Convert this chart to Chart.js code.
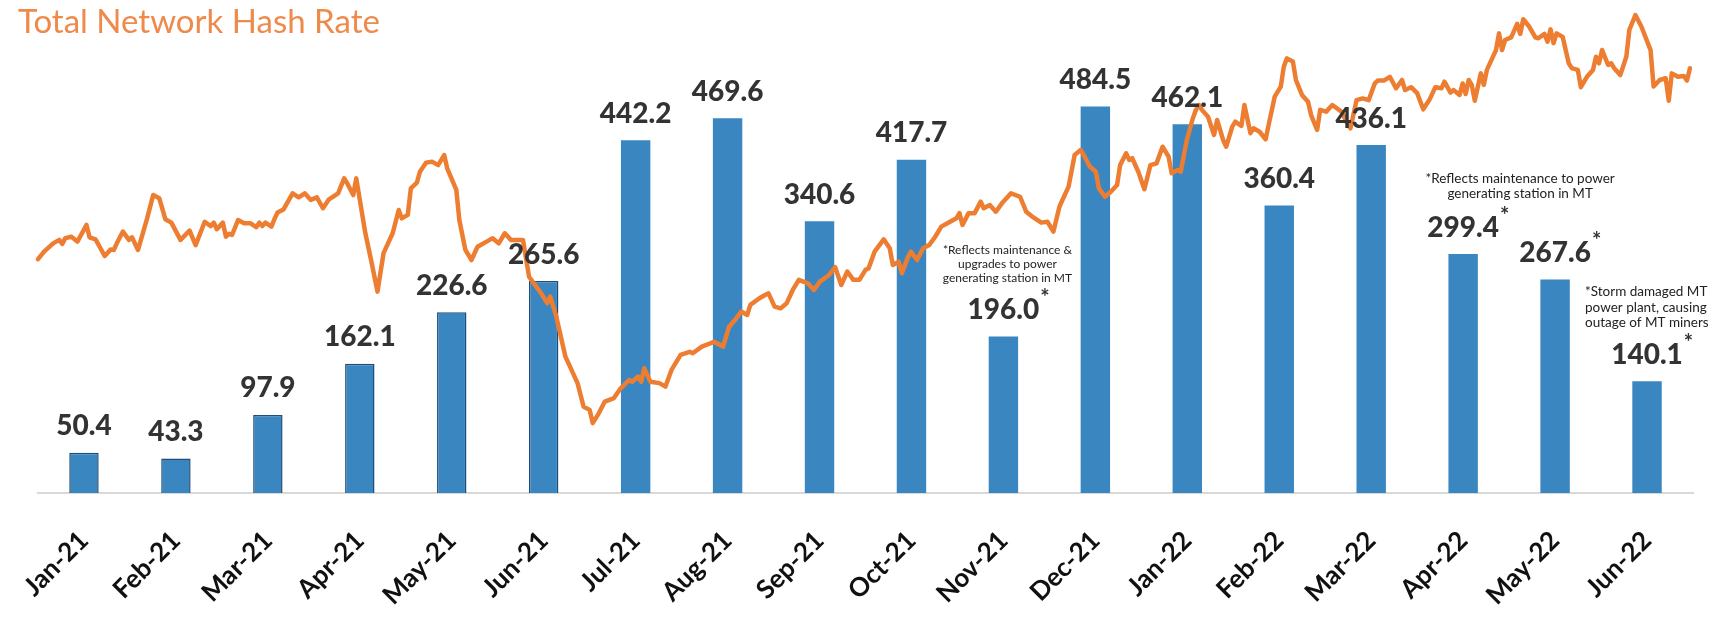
<!DOCTYPE html>
<html lang="en">
<head>
<meta charset="UTF-8">
<title>Total Network Hash Rate</title>
<script src="https://cdn.jsdelivr.net/npm/chart.js"></script>
<style>
  html, body { margin: 0; padding: 0; background: #ffffff; }
  #wrap { width: 1718px; height: 618px; }
</style>
</head>
<body>
<div id="wrap"><canvas id="hashChart" width="1718" height="618"></canvas></div>

<script>
// monthly bars
var months = ['Jan-21', 'Feb-21', 'Mar-21', 'Apr-21', 'May-21', 'Jun-21', 'Jul-21', 'Aug-21', 'Sep-21',
              'Oct-21', 'Nov-21', 'Dec-21', 'Jan-22', 'Feb-22', 'Mar-22', 'Apr-22', 'May-22', 'Jun-22'];
var monthlyValues = [50.4, 43.3, 97.9, 162.1, 226.6, 265.6, 442.2, 469.6, 340.6,
                     417.7, 196.0, 484.5, 462.1, 360.4, 436.1, 299.4, 267.6, 140.1];
var valueMarks = ['', '', '', '', '', '', '', '', '', '', '*', '', '', '', '', '*', '*', '*'];

// network hash rate, day 0 = 1 Jan 2021
var hashDays = [0, 2, 5, 7, 8, 9, 11, 13, 16, 17, 19, 22, 24, 25, 26, 28, 30, 31, 33, 36,
  38, 40, 42, 44, 47, 50, 52, 55, 57, 58, 59, 61, 62, 63, 64, 66, 68, 70, 72, 73,
  74, 75, 77, 78, 79, 81, 84, 86, 88, 90, 92, 94, 96,
  99, 101, 102, 104, 105, 106, 108, 110, 112, 114, 117, 119, 120, 122, 123, 125, 126, 128, 130, 132,
  134, 135, 138, 139, 141, 143, 145, 148, 150, 152, 154, 156, 160, 162, 166, 168, 169, 171, 174, 178,
  180, 182, 183, 185, 187, 190, 192,
  195, 196, 198, 199, 200, 202, 205, 207, 209, 212, 215, 216, 219, 222, 223, 226, 228, 230, 232, 234,
  235, 238, 240, 241, 243, 245, 247, 249, 251, 254, 256, 258, 261, 263, 265, 267, 269, 271, 273, 274,
  276, 279, 281, 282, 284, 285, 287, 288, 290, 292, 294, 296, 298, 300, 303, 304, 305, 307, 309, 311,
  312, 314, 316, 318, 321, 324, 326, 328, 331, 333, 335,
  337, 340, 342, 344, 345, 347, 349, 350, 352, 354, 356, 357, 359, 360, 361, 363, 365, 367, 369, 371,
  373, 374, 376, 377, 379, 381, 382, 383, 384, 386, 388, 389, 391, 392, 394, 395, 397, 398, 400, 401,
  403, 405, 406, 408, 410, 411, 412, 414, 415, 417, 419, 420, 422, 423, 425, 427, 430, 432, 433, 435,
  437, 439, 441, 442, 444,
  446, 448, 450, 451, 453, 455, 457, 459, 461, 463, 464, 466, 467, 469, 470, 471, 472, 473, 474, 476,
  477, 478, 481, 482, 483, 484, 486, 488, 489, 490, 492, 494, 495, 497, 498, 499, 500, 501, 503, 505,
  506, 508, 509, 511, 513, 514, 515, 516, 518, 519, 520, 522, 524, 525, 527, 529, 532, 533, 535, 537,
  538, 539, 541, 543, 544, 545];
var hashRate = [144.9, 147.5, 150.4, 151.6, 150.2, 152.2, 152.7, 151.0, 156.8, 152.5,
  151.8, 146.0, 148.3, 148.1, 150.4, 154.5, 151.6, 152.5, 148.1, 159.1,
  167.2, 166.1, 158.8, 157.6, 151.6, 154.8, 149.8, 157.9, 156.4, 157.6,
  155.3, 157.6, 152.7, 153.7, 153.3, 158.5, 157.4, 157.4, 156.0, 157.6,
  156.4, 157.6, 156.2, 158.8, 161.1, 162.2, 167.8, 166.4, 167.8, 165.5,
  166.4, 162.6, 165.7,
  167.8, 173.0, 171.3, 167.2, 173.0, 166.6, 153.9, 144.0, 133.6, 147.0,
  153.9, 162.0, 159.1, 160.3, 169.5, 171.5, 175.3, 178.4, 178.8, 177.6,
  181.1, 176.5, 169.0, 158.5, 148.1, 144.6, 149.2, 151.0, 152.2, 150.4,
  153.9, 151.6, 151.6, 138.8, 133.0, 129.6, 131.9, 124.9, 111.0, 101.8,
  93.6, 92.5, 87.9, 91.3, 95.4, 96.6, 99.7,
  102.9, 102.3, 104.1, 102.3, 107.0, 102.3, 101.8, 100.6, 106.4, 111.6,
  112.7, 112.2, 114.5, 115.7, 116.2, 114.5, 121.4, 123.8, 126.7, 125.5,
  129.0, 131.3, 132.5, 133.0, 128.4, 127.8, 129.6, 134.2, 137.7, 136.5,
  134.2, 137.1, 139.4, 142.1, 135.9, 140.6, 137.7, 137.7, 141.2, 141.7,
  147.5, 151.8, 148.7, 142.9, 144.0, 140.0, 145.6, 147.5, 144.6, 148.7,
  149.8, 152.7, 156.2, 157.4, 159.1, 160.9, 156.8, 160.9, 160.9, 164.9,
  162.6, 163.7, 161.4, 164.3, 167.8, 166.6, 161.4, 159.7, 157.6, 157.9,
  154.5,
  163.2, 170.1, 181.1, 182.9, 181.1, 177.1, 175.3, 169.5, 166.6, 168.4,
  170.7, 177.6, 181.7, 179.4, 180.0, 175.3, 169.2, 177.6, 178.2, 184.0,
  180.5, 174.8, 175.9, 175.3, 186.3, 193.9, 196.8, 198.5, 196.8, 194.4,
  188.1, 193.3, 186.3, 184.0, 191.0, 192.7, 191.2, 198.5, 188.7, 190.4,
  189.2, 186.6, 191.6, 201.4, 204.9, 211.8, 214.7, 213.6, 207.2, 202.0,
  199.6, 195.0, 189.8, 196.8, 196.2, 198.5, 196.2, 192.1, 190.4, 200.2,
  200.8, 200.2, 206.0, 207.0, 207.0,
  208.3, 204.3, 207.2, 203.7, 204.7, 202.6, 197.0, 200.2, 204.7, 204.3,
  206.6, 202.8, 203.7, 202.0, 206.0, 202.3, 207.2, 205.5, 200.0, 209.5,
  205.5, 210.7, 217.6, 223.4, 217.6, 221.1, 222.0, 226.7, 223.2, 228.3,
  225.7, 222.0, 221.7, 223.2, 220.5, 224.8, 220.0, 223.4, 222.2, 213.0,
  211.3, 210.7, 204.7, 208.3, 210.7, 215.3, 213.0, 217.6, 212.4, 213.0,
  211.3, 208.9, 215.3, 224.6, 229.8, 225.7, 217.6, 204.9, 207.2, 207.8,
  200.0, 209.5, 208.3, 208.6, 207.0, 211.3];

// footnotes written next to some bars
var noteTexts = {
  'Nov-21': ['*Reflects maintenance &', 'upgrades to power', 'generating station in MT'],
  'Apr-22': ['*Reflects maintenance to power', 'generating station in MT'],
  'Jun-22': ['*Storm damaged MT', 'power plant, causing', 'outage of MT miners']
};
// where each footnote sits, relative to its bar
var notePlace = {
  'Nov-21': { dx: 4, align: 'center', size: 12, lh: 14, gap: 41 },
  'Apr-22': { dx: 57, align: 'center', size: 13.5, lh: 15, gap: 43 },
  'Jun-22': { dx: -62, align: 'left', size: 13.5, lh: 15.5, gap: 41 }
};

var barLabels = {
  id: 'barLabels',
  afterDatasetsDraw: function (chart) {
    var c = chart.ctx;
    var meta = chart.getDatasetMeta(1);
    c.save();
    c.fillStyle = '#333333';
    meta.data.forEach(function (bar, i) {
      var txt = monthlyValues[i].toFixed(1);
      var base = bar.y - 17.5;
      c.font = '900 28px Lato';
      c.textAlign = 'center';
      c.textBaseline = 'alphabetic';
      c.fillText(txt, bar.x, base);
      if (valueMarks[i]) {
        var w = c.measureText(txt).width;
        c.font = 'bold 22px Lato';
        c.textAlign = 'left';
        c.fillText(valueMarks[i], bar.x + w / 2 + 1, base - 14);
      }
    });

    c.fillStyle = '#222222';
    c.textBaseline = 'middle';
    Object.keys(noteTexts).forEach(function (m) {
      var lines = noteTexts[m];
      var p = notePlace[m];
      var bar = meta.data[months.indexOf(m)];
      var base = bar.y - 17.5;
      c.font = p.size + 'px Lato';
      c.textAlign = p.align;
      lines.forEach(function (ln, k) {
        var y = base - p.gap - (lines.length - 1 - k) * p.lh;
        c.fillText(ln, bar.x + p.dx, y);
      });
    });
    c.restore();
  }
};

var ctx = document.getElementById('hashChart').getContext('2d');
var hashChart = new Chart(ctx, {
  type: 'bar',
  data: {
    labels: months,
    datasets: [
      {
        type: 'line',
        label: 'Total Network Hash Rate',
        data: hashDays.map(function (d, i) { return { x: d, y: hashRate[i] }; }),
        xAxisID: 'xDays',
        yAxisID: 'yHash',
        borderColor: '#ED7D31',
        borderWidth: 4.5,
        borderJoinStyle: 'round',
        borderCapStyle: 'round',
        pointRadius: 0,
        tension: 0,
        clip: false,
        order: 0
      },
      {
        label: 'Monthly',
        data: monthlyValues,
        backgroundColor: '#3A86C0',
        borderColor: '#1F4E79',
        borderWidth: function (c) { return c.dataIndex < 6 ? 1.5 : 0; },
        grouped: false,
        categoryPercentage: 1,
        barPercentage: 0.32,
        order: 1
      }
    ]
  },
  options: {
    responsive: false,
    animation: false,
    layout: { padding: { left: 18, right: 25, top: 0, bottom: 0 } },
    plugins: {
      legend: { display: false },
      tooltip: { enabled: false },
      title: {
        display: true,
        text: 'Total Network Hash Rate',
        align: 'start',
        color: '#EE8A4C',
        font: { family: 'Lato', size: 33, weight: 'normal', lineHeight: 1.2 },
        padding: { top: 3, bottom: 2 }
      }
    },
    scales: {
      x: {
        offset: true,
        grid: { display: false, drawTicks: false },
        border: { display: true, color: '#D9D9D9', width: 2 },
        ticks: {
          autoSkip: false,
          minRotation: 45,
          maxRotation: 45,
          padding: 32,
          color: '#111111',
          font: { family: 'Lato', weight: 'bold', size: 26 }
        },
        afterFit: function (s) {
          s.height = 125;
          s.paddingLeft = 0;
          s.paddingRight = 0;
        }
      },
      xDays: { type: 'linear', display: false, offset: false, min: 0, max: 546 },
      y: {
        min: 0,
        max: 562,
        grid: { display: false },
        border: { display: false },
        ticks: { display: false },
        afterFit: function (s) { s.width = 20; }
      },
      yHash: { position: 'right', display: false, min: 63.6, max: 219.5 }
    }
  },
  plugins: [barLabels]
});
</script>
</body>
</html>
